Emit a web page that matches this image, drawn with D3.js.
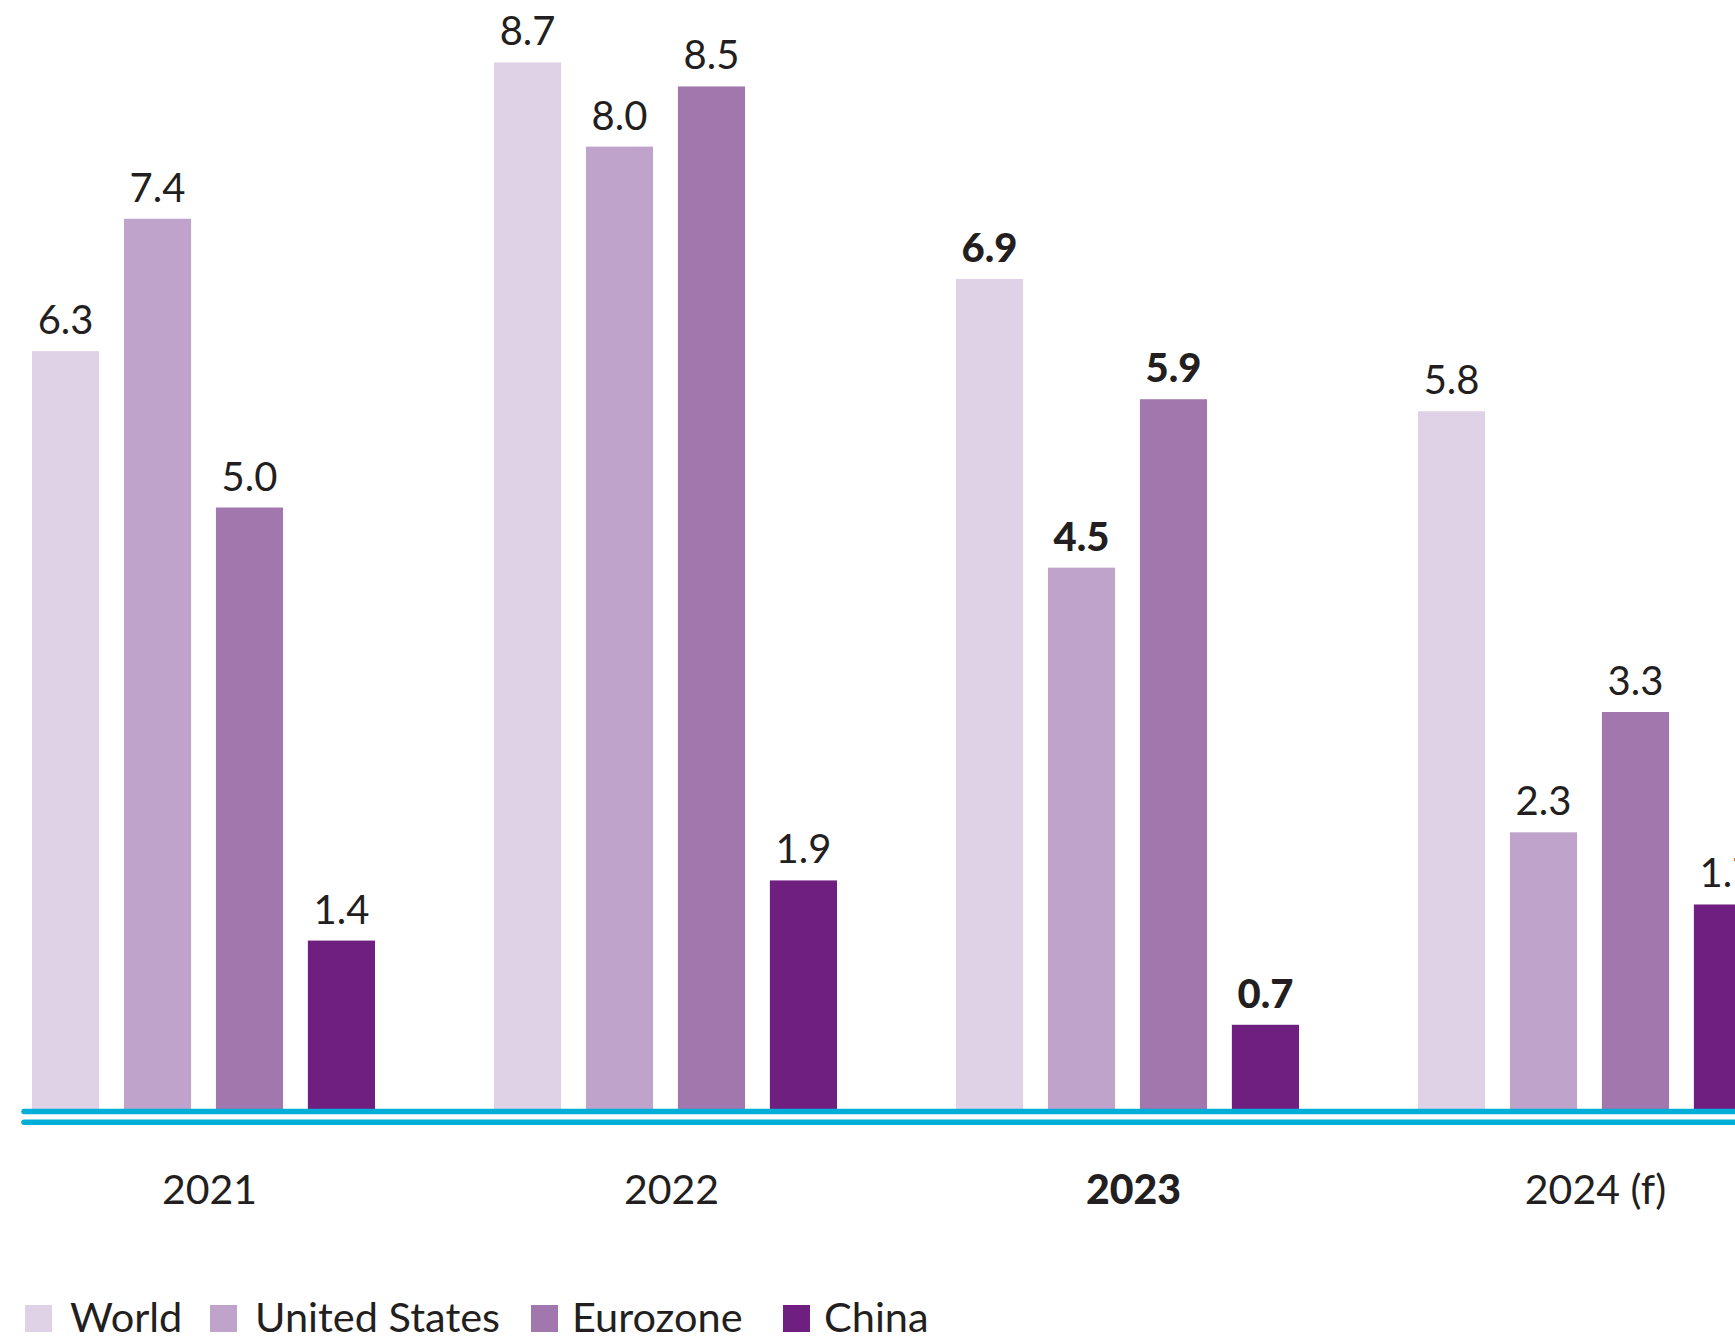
<!DOCTYPE html>
<html>
<head>
<meta charset="utf-8">
<script src="https://cdn.jsdelivr.net/npm/d3@7"></script>
<style>
  html, body { margin: 0; padding: 0; background: #fff; }
  svg { display: block; font-family: Lato, "Open Sans", sans-serif; }
</style>
</head>
<body>
<svg id="chart" width="1735" height="1340"></svg>
<script>
// Annual inflation (%) by region
const years = ["2021", "2022", "2023", "2024 (f)"];
const seriesNames = ["World", "United States", "Eurozone", "China"];
const world = [6.3, 8.7, 6.9, 5.8];
const unitedStates = [7.4, 8.0, 4.5, 2.3];
const eurozone = [5.0, 8.5, 5.9, 3.3];
const china = [1.4, 1.9, 0.7, 1.7];
const highlightYear = "2023";

const colors = ["#dfd2e6", "#bfa3cb", "#a277ad", "#6e1f80"];
const seriesValues = [world, unitedStates, eurozone, china];

const rows = years.map((year, i) => ({
  year,
  values: seriesNames.map((name, s) => ({ name, value: seriesValues[s][i], s }))
}));

const svg = d3.select("#chart");
const baseline = 1109;
const fontSize = 40;

const x0 = d3.scaleBand().domain(years).range([32, 1761]).paddingInner(0.2576).paddingOuter(0);
const x1 = d3.scaleBand().domain(seriesNames).range([0, x0.bandwidth()]).paddingInner(0.27).paddingOuter(0);
const y = d3.scaleLinear().domain([0, 1]).range([baseline, baseline - 120.3]);
const color = d3.scaleOrdinal().domain(seriesNames).range(colors);

const groups = svg.append("g").selectAll("g")
  .data(rows).join("g")
  .attr("transform", d => `translate(${x0(d.year)},0)`);

groups.selectAll("rect")
  .data(d => d.values).join("rect")
  .attr("x", d => x1(d.name))
  .attr("width", x1.bandwidth())
  .attr("y", d => y(d.value))
  .attr("height", d => y(0) - y(d.value))
  .attr("fill", d => color(d.name));

groups.selectAll("text.value")
  .data(d => d.values.map(v => ({ ...v, bold: d.year === highlightYear }))).join("text")
  .attr("class", "value")
  .attr("x", d => x1(d.name) + x1.bandwidth() / 2)
  .attr("y", d => y(d.value) - 17)
  .attr("text-anchor", "middle")
  .attr("font-size", fontSize)
  .attr("font-weight", d => d.bold ? 900 : 400)
  .attr("fill", "#231f20")
  .text(d => d.value.toFixed(1));

// Double baseline rule
[1111.5, 1122.3].forEach(yy => {
  svg.append("line")
    .attr("x1", 24).attr("x2", 1760)
    .attr("y1", yy).attr("y2", yy)
    .attr("stroke", "#00aed8")
    .attr("stroke-width", 5.5)
    .attr("stroke-linecap", "round");
});

// Category axis (labels only)
const axis = d3.axisBottom(x0).tickSize(0).tickPadding(0);
const axisG = svg.append("g").attr("transform", `translate(6,1204)`).call(axis);
axisG.select(".domain").remove();
axisG.selectAll("text")
  .attr("dy", 0)
  .attr("font-size", 41)
  .attr("font-family", "Lato, 'Open Sans', sans-serif")
  .attr("fill", "#231f20")
  .attr("font-weight", d => d === highlightYear ? 900 : 400);

// Legend
const legendX = [25, 210, 531, 783];
const legend = svg.append("g").selectAll("g")
  .data(seriesNames).join("g")
  .attr("transform", (d, i) => `translate(${legendX[i]},1305)`);
legend.append("rect").attr("width", 27).attr("height", 27).attr("fill", d => color(d));
legend.append("text")
  .attr("x", (d, i) => i >= 2 ? 41 : 45).attr("y", 27)
  .attr("font-size", 41.5)
  .attr("fill", "#231f20")
  .text(d => d);
</script>
</body>
</html>
